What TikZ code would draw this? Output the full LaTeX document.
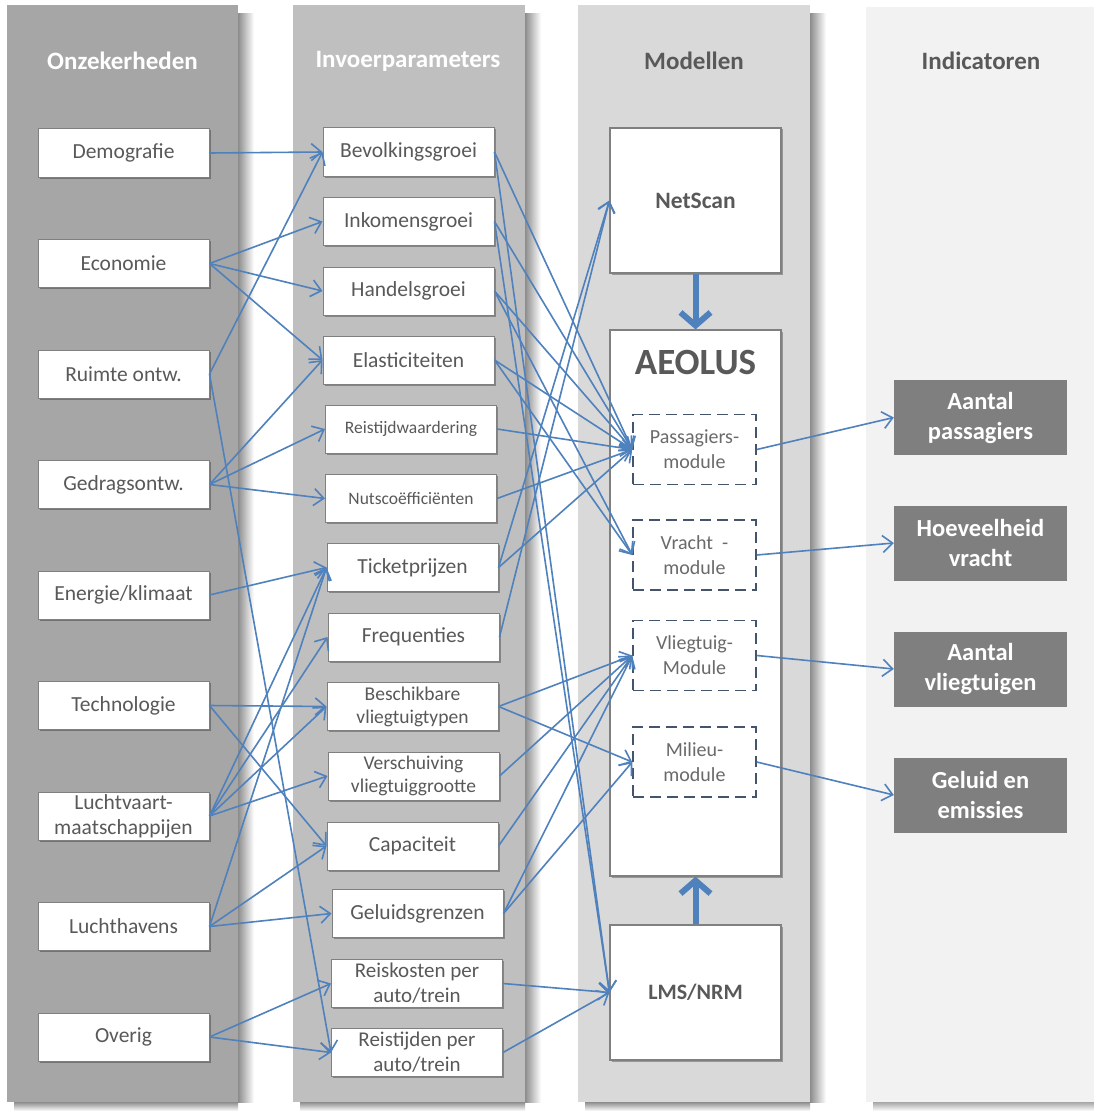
\documentclass[tikz,border=0pt]{standalone}
\usepackage{fontspec}
\setmainfont{Carlito}
\usetikzlibrary{arrows.meta,shadows}
\definecolor{pOne}{HTML}{A6A6A6}
\definecolor{pTwo}{HTML}{BFBFBF}
\definecolor{pThree}{HTML}{D9D9D9}
\definecolor{pFour}{HTML}{F2F2F2}
\definecolor{txt}{HTML}{595959}
\definecolor{modtxt}{HTML}{6A6A6A}
\definecolor{lnk}{HTML}{4F81BD}
\definecolor{ind}{HTML}{7F7F7F}
\definecolor{dsh}{HTML}{44546A}
\begin{document}
\begin{tikzpicture}[x=1pt,y=-1pt,
  ptitle/.style={font=\fontsize{25}{30}\selectfont\bfseries},
  pbox/.style={draw=black!50, line width=1pt, fill=white, minimum width=171pt, minimum height=48pt,
    inner sep=0pt, align=center, text=txt, font=\fontsize{21.5}{24}\selectfont,
    drop shadow={shadow xshift=1.5pt,shadow yshift=-1.5pt,opacity=.3,fill=black}},
  smalltxt/.style={font=\fontsize{17.5}{20}\selectfont},
  twoline/.style={font=\fontsize{19.5}{23}\selectfont},
  twolarge/.style={font=\fontsize{21}{25}\selectfont},
  modbox/.style={draw=dsh, dash pattern=on 11pt off 6pt, line width=1.5pt, minimum width=123pt,
    minimum height=70pt, align=center, text=modtxt, font=\fontsize{20}{25}\selectfont, inner sep=0pt},
  bigbox/.style={draw=black!50, line width=1.2pt, fill=white, minimum width=171pt, inner sep=0pt,
    text=txt, font=\bfseries\fontsize{23.5}{28}\selectfont,
    drop shadow={shadow xshift=1.5pt,shadow yshift=-1.5pt,opacity=.3,fill=black}},
  indi/.style={fill=ind, minimum width=173pt, minimum height=75pt, inner sep=0pt, align=center,
    text=white, font=\bfseries\fontsize{24.5}{30}\selectfont},
  conn/.style={draw=lnk, line width=1.6pt, -{Straight Barb[length=10pt,width=17pt]}},
  fatarrow/.style={draw=lnk, line width=6pt, -{Straight Barb[length=13pt,width=30pt]}},
]
\useasboundingbox (0,0) rectangle (1094,1113);
\fill[white] (0,0) rectangle (1094,1113);
% panel shadows
\shade[left color=black!45, right color=white] (238,14) rectangle (254,1102);
\shade[left color=black!45, right color=white] (525,14) rectangle (541,1102);
\shade[left color=black!45, right color=white] (810,14) rectangle (826,1102);
\shade[top color=black!45, bottom color=white] (14,1102) rectangle (238,1111);
\shade[top color=black!45, bottom color=white] (300,1102) rectangle (525,1111);
\shade[top color=black!45, bottom color=white] (585,1102) rectangle (810,1111);
\shade[top color=black!35, bottom color=white] (873,1102) rectangle (1094,1111);
% panels
\fill[pOne] (7,5) rectangle (238,1102);
\fill[pTwo] (293,5) rectangle (525,1102);
\fill[pThree] (578,5) rectangle (810,1102);
\fill[pFour] (866,7) rectangle (1094,1102);
% titles
\node[ptitle, text=white] (t1) at (122.5,61) {Onzekerheden};
\node[ptitle, text=white] (t2) at (408,61) {Invoerparameters};
\node[ptitle, text=txt] (t3) at (694,61) {Modellen};
\node[ptitle, text=txt] (t4) at (981,61) {Indicatoren};
% column 1
\node[pbox] (u1) at (123.5,153) {Demografie};
\node[pbox] (u2) at (123.5,263.5) {Economie};
\node[pbox] (u3) at (123.5,374) {Ruimte ontw.};
\node[pbox] (u4) at (123.5,484.5) {Gedragsontw.};
\node[pbox] (u5) at (123.5,595) {Energie/klimaat};
\node[pbox] (u6) at (123.5,705.5) {Technologie};
\node[pbox, font=\fontsize{21.5}{25}\selectfont] (u7) at (123.5,816) {Luchtvaart-\\maatschappijen};
\node[pbox] (u8) at (123.5,926.5) {Luchthavens};
\node[pbox] (u9) at (123.5,1037) {Overig};
% column 2
\node[pbox] (i1) at (408.5,152) {Bevolkingsgroei};
\node[pbox] (i2) at (408.5,221.5) {Inkomensgroei};
\node[pbox] (i3) at (408.5,291) {Handelsgroei};
\node[pbox] (i4) at (408.5,360) {Elasticiteiten};
\node[pbox, smalltxt] (i5) at (411,429) {Reistijdwaardering};
\node[pbox, smalltxt] (i6) at (411,498.5) {Nutscoëfficiënten};
\node[pbox] (i7) at (412.5,567.5) {Ticketprijzen};
\node[pbox] (i8) at (413.5,637) {Frequenties};
\node[pbox, twoline] (i9) at (412.5,706.5) {Beschikbare\\vliegtuigtypen};
\node[pbox, twoline] (i10) at (413.5,776) {Verschuiving\\vliegtuiggrootte};
\node[pbox] (i11) at (412.5,846) {Capaciteit};
\node[pbox] (i12) at (417.5,913.5) {Geluidsgrenzen};
\node[pbox, twolarge] (i13) at (417,983.5) {Reiskosten per\\auto/trein};
\node[pbox, twolarge] (i14) at (417,1052.5) {Reistijden per\\auto/trein};
% column 3
\node[bigbox, minimum height=145pt] (netscan) at (695.5,200.5) {NetScan};
\node[bigbox, minimum height=546pt] (aeolus) at (695.5,603) {};
\node[text=txt, font=\bfseries\fontsize{37}{40}\selectfont] (aeolustitle) at (695.5,363) {AEOLUS};
\node[bigbox, minimum height=135pt, font=\bfseries\fontsize{22}{26}\selectfont] (lms) at (695.5,992.5) {LMS/NRM};
\node[modbox] (m1) at (694.5,449.5) {Passagiers-\\module};
\node[modbox] (m2) at (694.5,555) {Vracht~~-\\module};
\node[modbox] (m3) at (694.5,655.5) {Vliegtuig-\\Module};
\node[modbox] (m4) at (694.5,762) {Milieu-\\module};
% column 4
\node[indi] (o1) at (980.5,417.5) {Aantal\\passagiers};
\node[indi] (o2) at (980.5,543) {Hoeveelheid\\vracht};
\node[indi] (o3) at (980.5,669) {Aantal\\vliegtuigen};
\node[indi] (o4) at (980.5,795) {Geluid en\\emissies};
% connectors column 1 -> 2
\draw[conn] (u1.east) -- (i1.west);
\draw[conn] (u2.east) -- (i2.west);
\draw[conn] (u2.east) -- (i3.west);
\draw[conn] (u2.east) -- (i4.west);
\draw[conn] (u3.east) -- (i1.west);
\draw[conn] (u3.east) -- (i14.west);
\draw[conn] (u4.east) -- (i4.west);
\draw[conn] (u4.east) -- (i5.west);
\draw[conn] (u4.east) -- (i6.west);
\draw[conn] (u5.east) -- (i7.west);
\draw[conn] (u6.east) -- (i9.west);
\draw[conn] (u6.east) -- (i11.west);
\draw[conn] (u7.east) -- (i7.west);
\draw[conn] (u7.east) -- (i8.west);
\draw[conn] (u7.east) -- (i9.west);
\draw[conn] (u7.east) -- (i10.west);
\draw[conn] (u8.east) -- (i7.west);
\draw[conn] (u8.east) -- (i11.west);
\draw[conn] (u8.east) -- (i12.west);
\draw[conn] (u9.east) -- (i13.west);
\draw[conn] (u9.east) -- (i14.west);
% connectors column 2 -> 3
\draw[conn] (i1.east) -- (m1.west);
\draw[conn] (i1.east) -- (lms.west);
\draw[conn] (i2.east) -- (m1.west);
\draw[conn] (i2.east) -- (lms.west);
\draw[conn] (i3.east) -- (m1.west);
\draw[conn] (i3.east) -- (m2.west);
\draw[conn] (i4.east) -- (m1.west);
\draw[conn] (i4.east) -- (m2.west);
\draw[conn] (i5.east) -- (m1.west);
\draw[conn] (i6.east) -- (m1.west);
\draw[conn] (i7.east) -- (netscan.west);
\draw[conn] (i7.east) -- (m1.west);
\draw[conn] (i8.east) -- (netscan.west);
\draw[conn] (i9.east) -- (m3.west);
\draw[conn] (i9.east) -- (m4.west);
\draw[conn] (i10.east) -- (m3.west);
\draw[conn] (i11.east) -- (m3.west);
\draw[conn] (i12.east) -- (m3.west);
\draw[conn] (i12.east) -- (m4.west);
\draw[conn] (i13.east) -- (lms.west);
\draw[conn] (i14.east) -- (lms.west);
% model arrows
\draw[fatarrow] (netscan.south) -- (aeolus.north);
\draw[fatarrow] (lms.north) -- (aeolus.south);
% column 3 -> 4
\draw[conn] (m1.east) -- (o1.west);
\draw[conn] (m2.east) -- (o2.west);
\draw[conn] (m3.east) -- (o3.west);
\draw[conn] (m4.east) -- (o4.west);
\end{tikzpicture}
\end{document}
